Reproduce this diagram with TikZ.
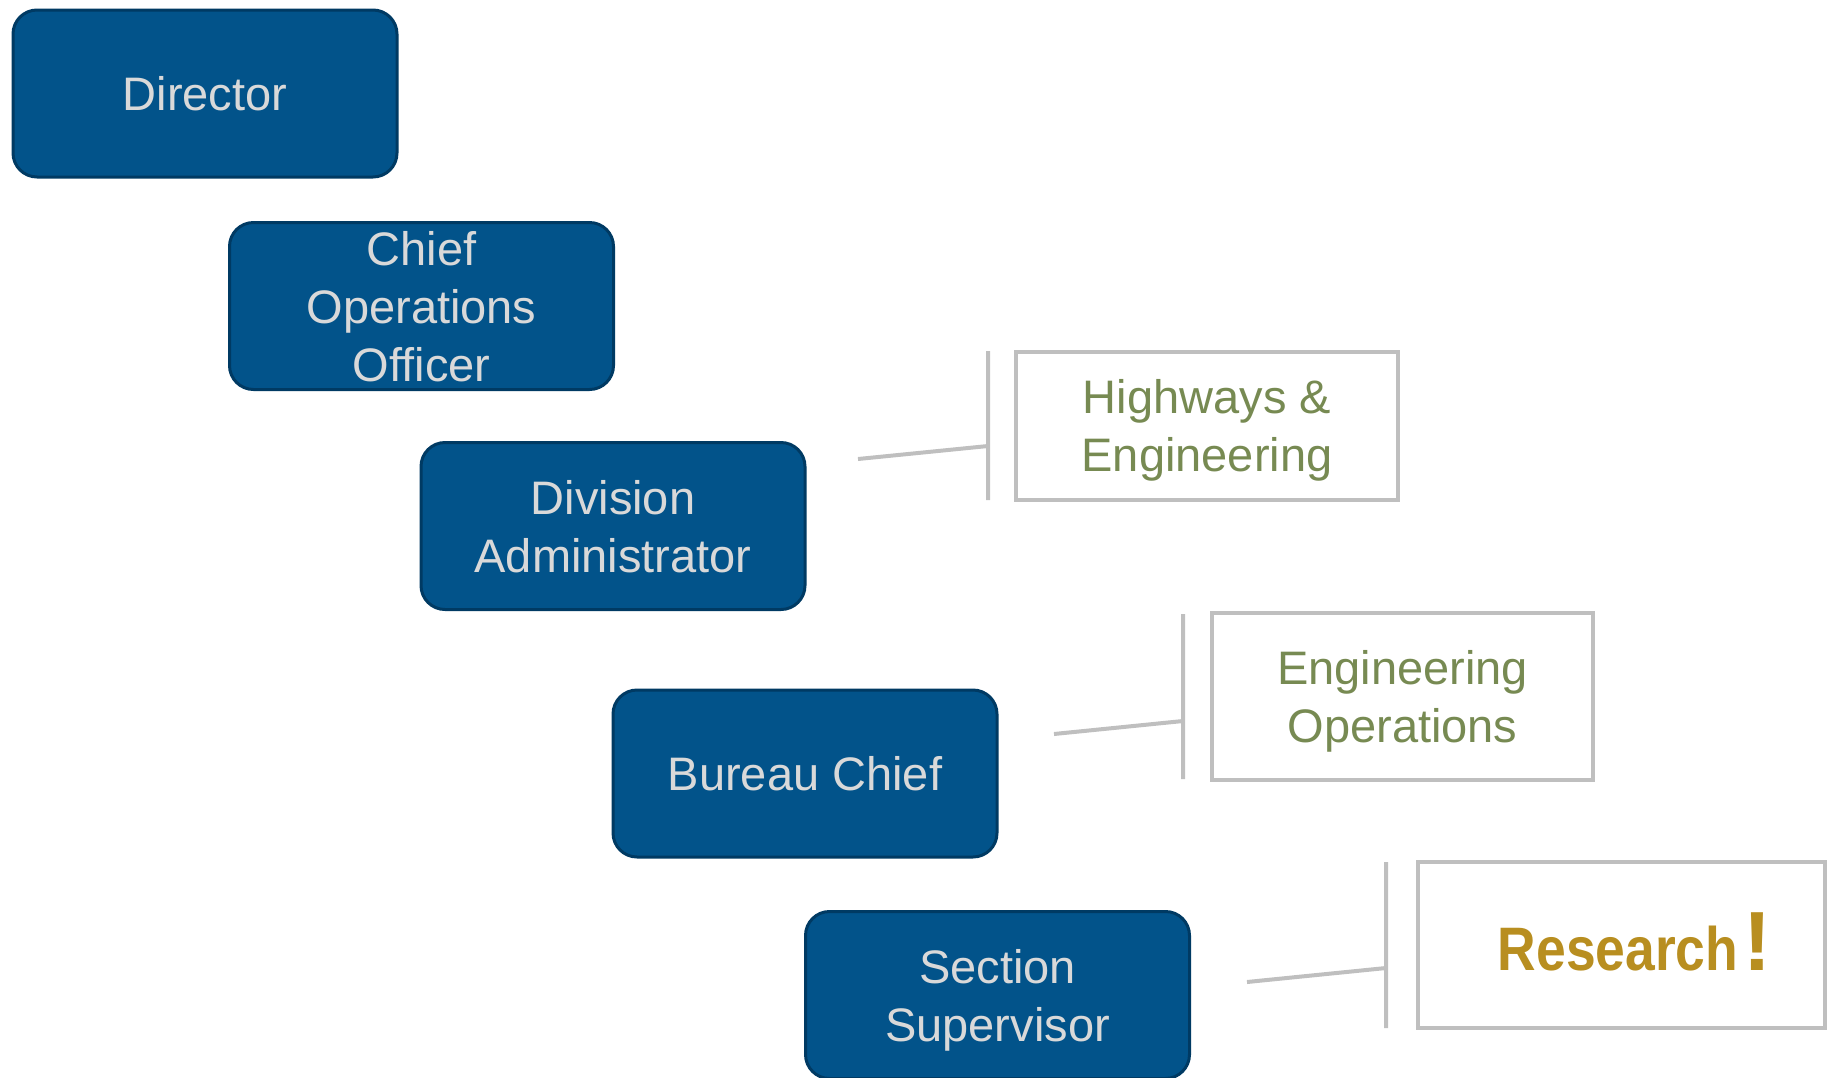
\documentclass[tikz,border=0pt]{standalone}
\usepackage{fontspec}
\setmainfont{Liberation Sans}
\usetikzlibrary{positioning}

\definecolor{boxblue}{RGB}{2,83,138}
\definecolor{boxedge}{RGB}{0,58,99}
\definecolor{boxtext}{RGB}{217,217,217}
\definecolor{tagline}{RGB}{191,191,191}
\definecolor{taggreen}{RGB}{119,138,82}
\definecolor{gold}{RGB}{184,142,32}

\begin{document}
\begin{tikzpicture}[x=0.5pt,y=-0.5pt,
        box/.style = {draw=boxedge,line width=1.5pt,fill=boxblue,
            rounded corners=12pt,text=boxtext,align=center,
            minimum width=192pt,minimum height=83.5pt,text depth=0pt,
            font=\fontsize{23.5}{29}\selectfont},
        tag/.style = {draw=tagline,line width=2pt,fill=white,
            text=taggreen,align=center,text depth=-2.5pt,
            font=\fontsize{23.5}{29}\selectfont},
        link/.style = {draw=tagline,line width=2pt}]
        \clip (0,0) rectangle (1836,1077);
        % ladder of posts
        \node[box](dir) at (205,93.5) {Director};
        \node[box](coo) at (421.5,306) {Chief\\Operations\\Officer};
        \node[box](div) at (613,526) {Division\\Administrator};
        \node[box](bur) at (805,773.5) {Bureau Chief};
        \node[box](sec) at (997.5,995) {Section\\Supervisor};
        % units
        \node[tag,minimum width=191pt,minimum height=74pt](hw) at (1207,425.5)
            {Highways \&\\Engineering};
        \node[tag,minimum width=190.5pt,minimum height=83.5pt](eo) at (1402.5,696.5)
            {Engineering\\Operations};
        \node[tag,minimum width=203.5pt,minimum height=83pt,text=gold,
            text height=25pt,text depth=0pt](res) at (1621.5,945)
            {\hspace*{13pt}\scalebox{0.87}[1]{\fontsize{30.7}{31}\selectfont\bfseries Research}%
             \kern2.5pt\fontsize{42}{42}\selectfont\bfseries !};
        % brackets
        \coordinate (hwa) at (858,459);
        \coordinate (hwj) at (988,446);
        \coordinate (hwt) at (988,351);
        \coordinate (hwb) at (988,500);
        \coordinate (eoa) at (1054,734);
        \coordinate (eoj) at (1183,721);
        \coordinate (eot) at (1183,614);
        \coordinate (eob) at (1183,779);
        \coordinate (resa) at (1247,982);
        \coordinate (resj) at (1386,968);
        \coordinate (rest) at (1386,862);
        \coordinate (resb) at (1386,1028);
        \path[link]
            (hwa) -- (hwj) (hwt) -- (hwb)
            (eoa) -- (eoj) (eot) -- (eob)
            (resa) -- (resj) (rest) -- (resb);
    \end{tikzpicture}
\end{document}
